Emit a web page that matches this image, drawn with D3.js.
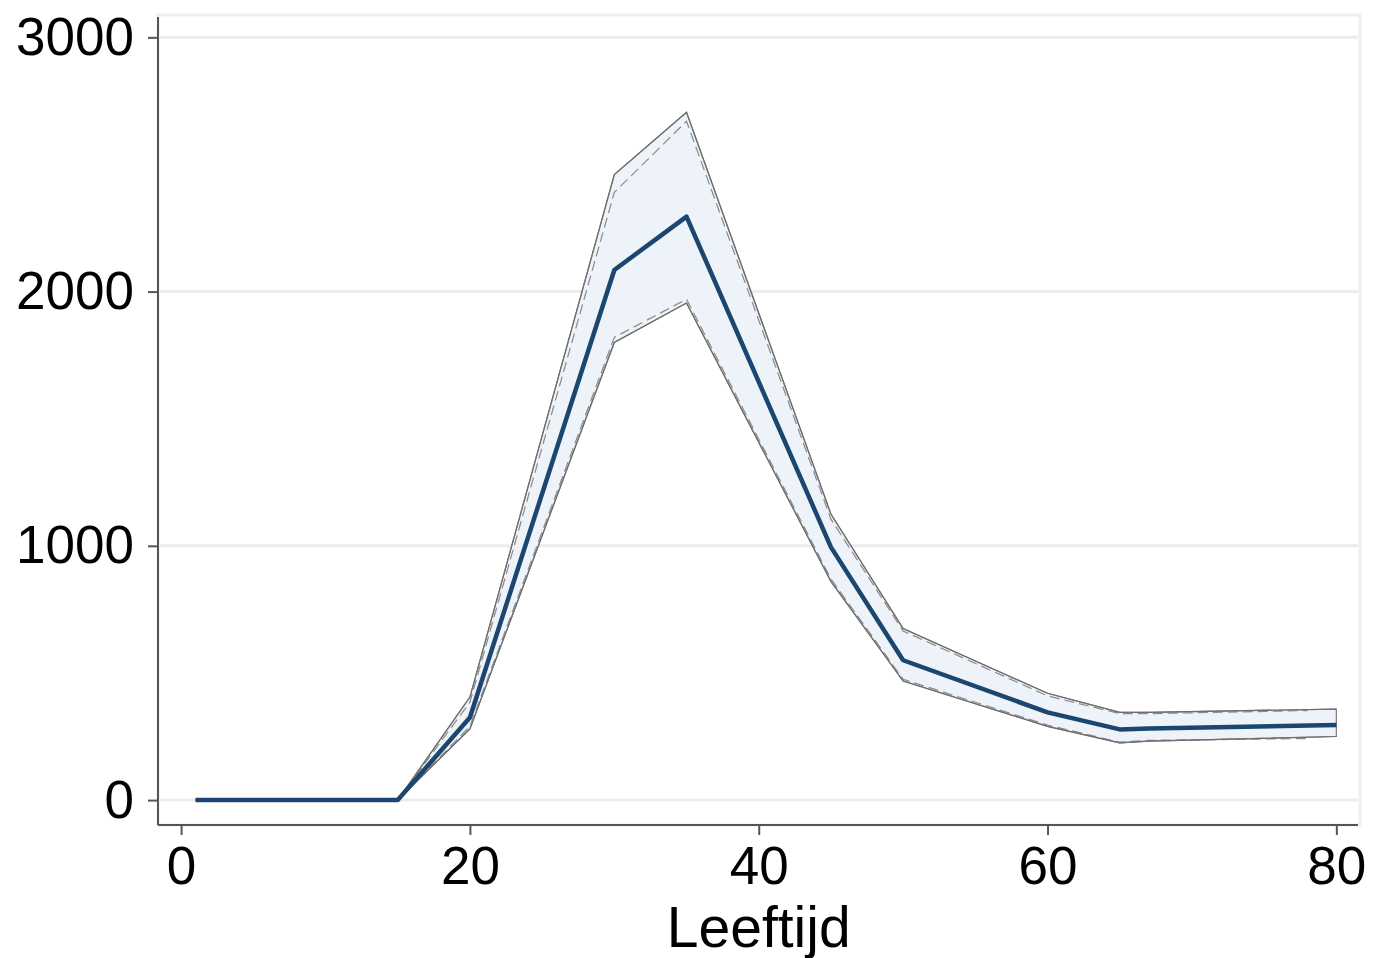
<!DOCTYPE html>
<html>
<head>
  <meta charset="utf-8">
  <title>Leeftijd</title>
  <style>
    body { margin: 0; background: #fff; }
    text { font-family: "Liberation Sans", Arial, sans-serif; }
  </style>
</head>
<body>
  <div class="area"></div>
  <script src="https://cdn.jsdelivr.net/npm/d3@7/dist/d3.min.js"></script>
  <script type="text/javascript">

  var w = 1382, h = 958;

  // data
  var ages   = [1, 15, 20, 30, 35, 45, 50, 60, 65, 67, 80];
  var mean   = [0, 0, 325, 2085, 2295, 995, 550, 345, 278, 282, 295];
  var upper  = [0, 0, 405, 2460, 2705, 1125, 675, 420, 345, 345, 358];
  var lower  = [0, 0, 280, 1800, 1955, 860, 468, 290, 225, 232, 250];
  // second (dashed) band, almost on top of the first one
  var ages2   = [15, 20, 30, 35, 45, 50, 60, 65, 67, 78];
  var upper2  = [0, 385, 2390, 2670, 1105, 665, 410, 340, 340, 352];
  var lower2  = [0, 290, 1820, 1970, 870, 475, 295, 228, 235, 242];

  var xTicks = [0, 20, 40, 60, 80];
  var yTicks = [0, 1000, 2000, 3000];
  var xTitle = 'Leeftijd';

  var svg = d3.select('.area')
    .append('svg')
    .attr('width', w)
    .attr('height', h);

  var x = d3.scaleLinear().domain([-1.6, 81.5]).range([158, 1358]);
  var y = d3.scaleLinear().domain([-98, 3080]).range([825, 17]);

  // plot frame (faint)
  svg.append('rect')
    .attr('x', 158).attr('y', 15)
    .attr('width', 1202).attr('height', 810)
    .attr('fill', 'none').attr('stroke', '#efefef').attr('stroke-width', 3);

  // gridlines
  svg.append('g').selectAll('line').data(yTicks).enter().append('line')
    .attr('x1', 160).attr('x2', 1358)
    .attr('y1', function(d){ return y(d); })
    .attr('y2', function(d){ return y(d); })
    .attr('stroke', '#ececec').attr('stroke-width', 3);

  var pts = ages.map(function(a, i){ return {a: a, m: mean[i], u: upper[i], l: lower[i]}; });
  var pts2 = ages2.map(function(a, i){ return {a: a, u: upper2[i], l: lower2[i]}; });

  // confidence band
  svg.append('path').datum(pts)
    .attr('d', d3.area()
      .x(function(d){ return x(d.a); })
      .y0(function(d){ return y(d.l); })
      .y1(function(d){ return y(d.u); }))
    .attr('fill', '#eef3f9').attr('stroke', '#7a7a7a').attr('stroke-width', 1.2);

  var line = function(key, arr){
    return d3.line()
      .x(function(d){ return x(d.a); })
      .y(function(d){ return y(d[key]); })(arr);
  };

  ['u', 'l'].forEach(function(k){
    svg.append('path')
      .attr('d', line(k, pts2))
      .attr('fill', 'none').attr('stroke', '#8a8a8a')
      .attr('stroke-width', 1.2).attr('stroke-dasharray', '10,5');
  });

  ['u', 'l'].forEach(function(k){
    svg.append('path')
      .attr('d', line(k, pts))
      .attr('fill', 'none').attr('stroke', '#6e6e6e').attr('stroke-width', 1.2);
  });

  // mean line
  svg.append('path')
    .attr('d', line('m', pts))
    .attr('fill', 'none').attr('stroke', '#1a4670')
    .attr('stroke-width', 4.5).attr('stroke-linejoin', 'round');

  // axes
  var xAxis = svg.append('g').attr('transform', 'translate(0,825)')
    .call(d3.axisBottom(x).tickValues(xTicks).tickSize(10).tickPadding(11));
  xAxis.select('.domain').attr('d', 'M158,0H1358').attr('stroke', '#555').attr('stroke-width', 2);
  xAxis.selectAll('.tick line').attr('stroke', '#555').attr('stroke-width', 2);
  xAxis.selectAll('.tick text').attr('font-size', 53).attr('fill', '#000')
    .attr('font-family', '"Liberation Sans", Arial, sans-serif');

  var yAxis = svg.append('g').attr('transform', 'translate(158,0)')
    .call(d3.axisLeft(y).tickValues(yTicks).tickFormat(d3.format('d')).tickSize(10).tickPadding(14));
  yAxis.select('.domain').attr('d', 'M0,17V825').attr('stroke', '#555').attr('stroke-width', 2);
  yAxis.selectAll('.tick line').attr('stroke', '#555').attr('stroke-width', 2);
  yAxis.selectAll('.tick text').attr('font-size', 53).attr('fill', '#000')
    .attr('font-family', '"Liberation Sans", Arial, sans-serif');

  svg.append('text')
    .attr('x', x(40)).attr('y', 947)
    .attr('text-anchor', 'middle')
    .attr('font-size', 57)
    .text(xTitle);

  </script>
</body>
</html>
